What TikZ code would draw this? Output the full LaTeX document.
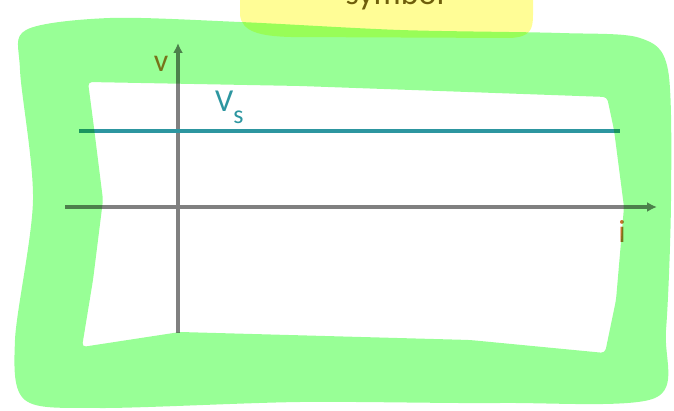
\documentclass[tikz,border=0pt]{standalone}
\usepackage{fontspec}
\setmainfont{Carlito}
\usetikzlibrary{arrows.meta}
\definecolor{hlgreen}{RGB}{152,255,150}
\definecolor{hlyellow}{RGB}{255,253,150}
\definecolor{axisgray}{RGB}{128,128,128}
\definecolor{vsteal}{RGB}{45,150,160}
\definecolor{labelorange}{RGB}{200,115,45}
\definecolor{symboltext}{RGB}{110,95,20}
\begin{document}
\begin{tikzpicture}[x=1pt,y=-1pt,
    axisline/.style={draw=axisgray,line width=3.5pt,-{Latex[length=10pt,width=10pt]}},
    txt/.style={inner sep=0pt,font=\fontsize{32}{34}\selectfont}]
    \useasboundingbox (0,0) rectangle (674,411);
    \clip (0,0) rectangle (674,411);
    \coordinate (O) at (178,207); % origin
    \coordinate (xstart) at (65,207);
    \coordinate (xend) at (657,207);
    \coordinate (ystart) at (178,333);
    \coordinate (yend) at (178,43);
    \coordinate (vsL) at (79,131); % source level
    \coordinate (vsR) at (620,131);
    \draw[axisline] (xstart) -- (xend);
    \draw[axisline] (ystart) -- (yend);
    \draw[vsteal,line width=3.5pt] (vsL) -- (vsR);
    \node[txt,text=labelorange,anchor=base] (vlab) at (161,72) {v};
    \node[txt,text=labelorange,anchor=base] (ilab) at (622,243) {i};
    \node[txt,text=vsteal,anchor=base west] (vslab) at (215,112)
        {V\raisebox{-12pt}{\fontsize{26}{26}\selectfont s}};
    \node[txt,text=symboltext,font=\fontsize{34}{36}\selectfont,anchor=base] (title) at (395,5) {symbol};
    \begin{scope}[blend mode=multiply]
        \fill[hlgreen,even odd rule]
            plot[smooth cycle] coordinates {(26,30) (110,18) (240,22) (400,30) (560,33) (640,38) (668,70) (671,200) (666,330) (655,398) (500,403) (300,402) (100,408) (25,400) (15,340) (33,200) (20,70)}
            [rounded corners=4pt]
            (88,82) -- (300,86) -- (607,97) -- (614,130) -- (624,207) -- (616,300) -- (605,353) -- (470,340) -- (180,332) -- (82,347) -- (93,280) -- (103,200) -- (93,120) -- cycle; % highlight frame
        \fill[hlyellow] (240,-5) -- (240,15) .. controls (242,32) and (260,36) .. (290,37) -- (510,38) .. controls (530,37) and (533,30) .. (533,15) -- (533,-5) -- cycle; % title blob
    \end{scope}
\end{tikzpicture}
\end{document}
